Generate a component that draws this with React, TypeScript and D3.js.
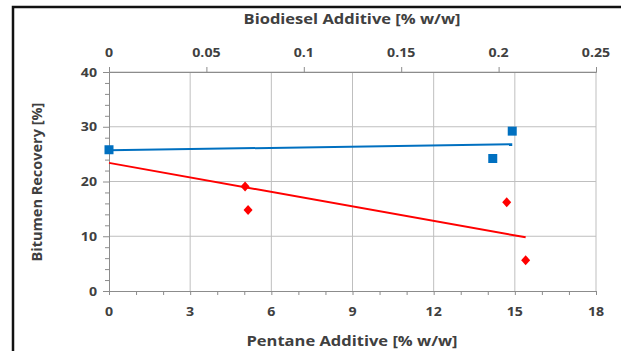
import React, { useEffect, useRef } from "react";
import * as d3 from "d3";

// Biodiesel series (top axis)
const biodieselX = [0, 0.197, 0.207];
const biodieselY = [25.8, 24.2, 29.2];
const biodieselTrendX = [0, 0.207];
const biodieselTrendY = [25.7, 26.8];

// Pentane series (bottom axis)
const pentaneX = [5.03, 5.14, 14.7, 15.4];
const pentaneY = [19.1, 14.8, 16.2, 5.6];
const pentaneTrendX = [0, 15.4];
const pentaneTrendY = [23.4, 9.8];

const bottomTicks = [0, 3, 6, 9, 12, 15, 18];
const topTicks = [0, 0.05, 0.1, 0.15, 0.2, 0.25];
const yTicks = [0, 10, 20, 30, 40];

const App = () => {
  const ref = useRef<SVGSVGElement>(null);

  useEffect(() => {
    const svg = d3.select(ref.current);
    svg.selectAll("*").remove();

    const width = 621;
    const height = 351;
    const left = 109;
    const right = 596;
    const top = 72;
    const bottom = 291;
    const font = "'Open Sans', 'Noto Sans', sans-serif";
    const textColor = "#404040";
    const stretch = 1.18; // the picture is a bit wider than tall

    const x = d3.scaleLinear().domain([0, 18]).range([left, right]);
    const x2 = d3.scaleLinear().domain([0, 0.25]).range([left, right]);
    const y = d3.scaleLinear().domain([0, 40]).range([bottom, top]);

    svg.attr("width", width).attr("height", height);

    svg.append("rect").attr("width", width).attr("height", height).attr("fill", "white");

    // outer frame
    svg
      .append("path")
      .attr("d", `M13,${height + 5} V7 H${width + 5}`)
      .attr("fill", "none")
      .attr("stroke", "#111")
      .attr("stroke-width", 2.5);

    // gridlines
    const grid = svg.append("g").attr("stroke", "#bfbfbf").attr("stroke-width", 1);
    grid
      .selectAll("line.v")
      .data(bottomTicks.slice(1))
      .join("line")
      .attr("x1", (d) => x(d))
      .attr("x2", (d) => x(d))
      .attr("y1", top)
      .attr("y2", bottom);
    grid
      .selectAll("line.h")
      .data(yTicks.slice(1))
      .join("line")
      .attr("x1", left)
      .attr("x2", right)
      .attr("y1", (d) => y(d))
      .attr("y2", (d) => y(d));

    const axisColor = "#8c8c8c";

    // horizontal text, stretched a little in x
    const label = (
      g: d3.Selection<any, any, any, any>,
      tx: number,
      ty: number,
      txt: string | number,
      size: number,
      anchor = "middle"
    ) =>
      g
        .append("text")
        .attr("transform", `translate(${tx},${ty}) scale(${stretch},1)`)
        .attr("text-anchor", anchor)
        .attr("font-family", font)
        .attr("font-weight", "bold")
        .attr("font-size", size)
        .attr("fill", textColor)
        .text(txt);

    // bottom axis
    const gx = svg
      .append("g")
      .attr("transform", `translate(0,${bottom})`)
      .call(d3.axisBottom(x).tickValues(d3.range(0, 19, 1)).tickSize(4).tickFormat(() => ""));
    gx.select(".domain").attr("stroke", axisColor);
    gx.selectAll(".tick line").attr("stroke", axisColor);

    const bl = svg.append("g");
    bottomTicks.forEach((d) => label(bl, x(d), 316, d, 12));

    // top axis
    const gt = svg
      .append("g")
      .attr("transform", `translate(0,${top})`)
      .call(d3.axisTop(x2).tickValues(topTicks).tickSize(5).tickFormat(() => ""));
    gt.select(".domain").attr("stroke", axisColor);
    gt.selectAll(".tick line").attr("stroke", axisColor);

    const tl = svg.append("g");
    topTicks.forEach((d) => label(tl, x2(d), 57, d, 12));

    // left axis
    const gy = svg
      .append("g")
      .attr("transform", `translate(${left},0)`)
      .call(d3.axisLeft(y).tickValues(d3.range(0, 41, 2)).tickSize(4).tickFormat(() => ""));
    gy.select(".domain").attr("stroke", axisColor);
    gy.selectAll(".tick line").attr("stroke", axisColor);
    gy.selectAll(".tick")
      .filter((d: any) => d % 10 === 0)
      .select("line")
      .attr("x2", -6);

    const yl = svg.append("g");
    yTicks.forEach((d) => label(yl, 97, y(d) + 4.5, d, 12, "end"));

    // axis titles
    const titles = svg.append("g");
    label(titles, 352, 24, "Biodiesel Additive [% w/w]", 14);
    label(titles, 352, 346, "Pentane Additive [% w/w]", 14);
    titles
      .append("text")
      .attr("transform", `translate(42,182) rotate(-90)`)
      .attr("text-anchor", "middle")
      .attr("font-family", font)
      .attr("font-weight", "bold")
      .attr("font-size", 14.5)
      .attr("fill", textColor)
      .text("Bitumen Recovery [%]");

    // trend lines
    const line = d3.line<[number, number]>();
    svg
      .append("path")
      .attr("d", line(biodieselTrendX.map((d, i) => [x2(d), y(biodieselTrendY[i])])))
      .attr("fill", "none")
      .attr("stroke", "#0070c0")
      .attr("stroke-width", 2);
    svg
      .append("path")
      .attr("d", line(pentaneTrendX.map((d, i) => [x(d), y(pentaneTrendY[i])])))
      .attr("fill", "none")
      .attr("stroke", "#ff0000")
      .attr("stroke-width", 2);

    // markers
    svg
      .append("g")
      .selectAll("rect")
      .data(biodieselX)
      .join("rect")
      .attr("x", (d) => x2(d) - 4.5)
      .attr("y", (d, i) => y(biodieselY[i]) - 4.5)
      .attr("width", 9)
      .attr("height", 9)
      .attr("fill", "#0070c0");

    svg
      .append("g")
      .selectAll("path")
      .data(pentaneX)
      .join("path")
      .attr("transform", (d, i) => `translate(${x(d)},${y(pentaneY[i])})`)
      .attr("d", "M0,-5 L4.5,0 L0,5 L-4.5,0 Z")
      .attr("fill", "#ff0000");
  }, []);

  return (
    <svg
      ref={ref}
      style={{ position: "absolute", left: 0, top: 0, display: "block" }}
    ></svg>
  );
};

export default App;
